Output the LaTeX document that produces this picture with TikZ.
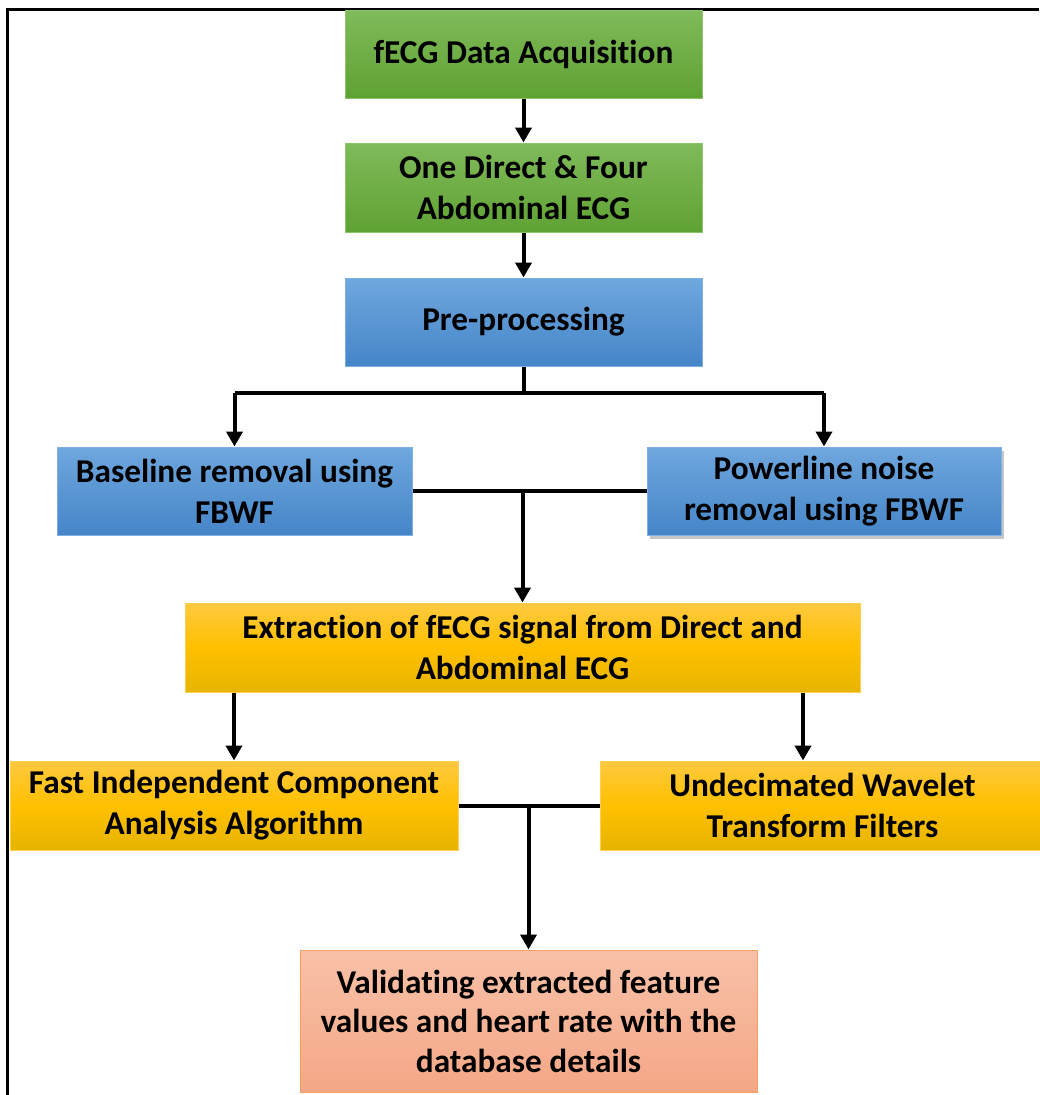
\documentclass[tikz,border=0pt]{standalone}
\usepackage{fontspec}
\setmainfont[Ligatures=NoCommon]{Carlito}
\usetikzlibrary{arrows.meta,shadows,calc}
\definecolor{gtop}{HTML}{80BA5A}
\definecolor{gbot}{HTML}{5FA233}
\definecolor{gbrd}{HTML}{8CC46A}
\definecolor{btop}{HTML}{6FA7DE}
\definecolor{bbot}{HTML}{4585C8}
\definecolor{bbrd}{HTML}{7DB1E2}
\definecolor{ytop}{HTML}{FFC940}
\definecolor{ymid}{HTML}{FFC000}
\definecolor{ybot}{HTML}{E6B400}
\definecolor{ybrd}{HTML}{FFD050}
\definecolor{stop}{HTML}{F8C1A8}
\definecolor{sbot}{HTML}{F4A786}
\definecolor{sbrd}{HTML}{F5A060}
\tikzset{
  box/.style={rectangle, align=center, font=\fontsize{33.3}{41}\selectfont\bfseries, inner sep=0pt, line width=1pt},
  greenbox/.style={box, draw=gbrd, top color=gtop, bottom color=gbot},
  bluebox/.style={box, draw=bbrd, top color=btop, bottom color=bbot},
  yellowbox/.style={box, draw=ybrd, top color=ytop, bottom color=ybot, middle color=ymid},
  salmonbox/.style={box, draw=sbrd, top color=stop, bottom color=sbot},
  conn/.style={line width=4pt, black},
  arr/.style={conn, -{Triangle[width=16pt,length=15pt]}, shorten >=0pt},
}
\begin{document}
\begin{tikzpicture}[x=1pt,y=-1pt]
\useasboundingbox (0,0) rectangle (1039,1095);
\draw[line width=3pt] (7,1095) -- (7,9) -- (1039,9);

\node[greenbox, minimum width=357pt, minimum height=88pt] (b1) at (523.5,54) {fECG Data Acquisition};
\node[greenbox, minimum width=357pt, minimum height=89pt] (b2) at (523.5,187.5) {One Direct \& Four\\Abdominal ECG};
\node[bluebox, minimum width=357pt, minimum height=88pt] (b3) at (523.5,322) {Pre-processing};
\node[bluebox, minimum width=355pt, minimum height=88pt] (b4) at (234.5,491) {Baseline removal using\\FBWF};
\node[bluebox, minimum width=354pt, minimum height=88pt, drop shadow={opacity=0.45, shadow xshift=3pt, shadow yshift=-4pt}] (b5) at (824,491) {Powerline noise\\removal using FBWF};
\node[yellowbox, minimum width=675pt, minimum height=89pt] (b6) at (522.5,647.5) {Extraction of fECG signal from Direct and\\Abdominal ECG};
\node[yellowbox, minimum width=448pt, minimum height=89pt] (b7) at (234,805.5) {Fast Independent Component\\Analysis Algorithm};
\node[yellowbox, minimum width=445pt, minimum height=89pt] (b8) at (822.5,805.5) {Undecimated Wavelet\\Transform Filters};
\node[salmonbox, minimum width=457pt, minimum height=142pt, font=\fontsize{33.3}{39.5}\selectfont\bfseries] (b9) at (528.5,1021) {Validating extracted feature\\values and heart rate with the\\database details};

\draw[arr] (b1) -- (b2);
\draw[arr] (b2) -- (b3);

\coordinate (s1) at ($(b3.south)+(0,26)$);
\draw[conn] (b3.south) -- (s1);
\draw[conn] (s1 -| b4.north) -- (s1 -| b5.north);
\draw[arr] (s1 -| b4.north) -- (b4.north);
\draw[arr] (s1 -| b5.north) -- (b5.north);

\draw[conn] (b4.east) -- (b5.west);
\draw[arr] (b4.east -| b6.north) -- (b6.north);

\coordinate (s2) at (803,0);
\draw[arr] (b6.south -| b7.north) -- (b7.north);
\draw[arr] (b6.south -| s2) -- (b8.north -| s2);

\draw[conn] (b7.east) -- (b8.west);
\draw[arr] (b7.east -| b9.north) -- (b9.north);
\end{tikzpicture}
\end{document}
